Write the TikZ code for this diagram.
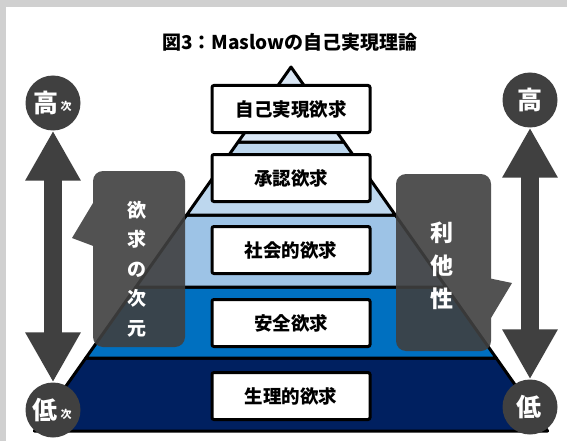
\documentclass[tikz,border=0pt]{standalone}
\usepackage{fontspec}
\setmainfont{Noto Sans CJK JP}
\usetikzlibrary{arrows.meta}
\definecolor{bg}{HTML}{D0D0D0}
\definecolor{dg}{HTML}{404040}
\definecolor{p1}{HTML}{DAE7F5}
\definecolor{p2}{HTML}{BDD7EE}
\definecolor{p3}{HTML}{9DC3E6}
\definecolor{p4}{HTML}{0070C0}
\definecolor{p5}{HTML}{002060}
\begin{document}
\begin{tikzpicture}[x=1pt,y=-1pt,
 band/.style={draw=black,line width=3pt,line join=round},
 lvl/.style={draw=black,fill=white,line width=3pt,rounded corners=2pt,minimum width=158pt,minimum height=47pt,inner sep=0pt,font=\fontsize{18.5}{18.5}\selectfont\bfseries},
 badge/.style={circle,fill=dg,minimum size=55pt,inner sep=0pt},
 bigtxt/.style={text=white,font=\fontsize{25}{25}\selectfont\bfseries,inner sep=0pt},
 smalltxt/.style={text=white,font=\fontsize{11}{11}\selectfont\bfseries,inner sep=0pt},
 dbl/.style={draw=dg,line width=18pt,{Triangle[width=52pt,length=50pt]}-{Triangle[width=52pt,length=50pt]}},
 vtxt/.style={text=white,inner sep=0pt,align=center}]
\fill[bg] (0,0) rectangle (567,441);
\fill[white] (6,7) rectangle (567,441);
\useasboundingbox (0,0) rectangle (567,441);
% title
\node[font=\fontsize{19}{19}\selectfont\bfseries] (title) at (290,42) {図3：Maslowの自己実現理論};
% pyramid
\filldraw[band,fill=p5] (85.8,358) -- (496.2,358) -- (547.6,431) -- (34.4,431) -- cycle;
\filldraw[band,fill=p4] (135.9,287) -- (446.1,287) -- (496.2,358) -- (85.8,358) -- cycle;
\filldraw[band,fill=p3] (186.7,215) -- (395.3,215) -- (446.1,287) -- (135.9,287) -- cycle;
\filldraw[band,fill=p2] (238.1,142) -- (343.9,142) -- (395.3,215) -- (186.7,215) -- cycle;
\filldraw[band,fill=p1] (291,67) -- (343.9,142) -- (238.1,142) -- cycle;
% level boxes
\node[lvl] (l1) at (291,109) {自己実現欲求};
\node[lvl] (l2) at (291,178) {承認欲求};
\node[lvl] (l3) at (291,250) {社会的欲求};
\node[lvl] (l4) at (291,323) {安全欲求};
\node[lvl] (l5) at (291,396) {生理的欲求};
% badges
\node[badge] (lt) at (53,103) {};
\node[badge] (lb) at (53,410) {};
\node[badge] (rt) at (530,100) {};
\node[badge] (rb) at (530,407) {};
\draw[dbl] (lt.south) -- (lb.north);
\draw[dbl] (rt.south) -- (rb.north);
\node[bigtxt] (lt1) at (46,103) {高};
\node[smalltxt] (lt2) at (66,106) {次};
\node[bigtxt] (lb1) at (45,410) {低};
\node[smalltxt] (lb2) at (66,414) {次};
\node[bigtxt] (rt1) at (530,100) {高};
\node[bigtxt] (rb1) at (529,407) {低};
% callouts
\begin{scope}[transparency group,opacity=0.9]
\fill[dg,rounded corners=10pt] (93,171) rectangle (185,347);
\fill[dg] (96,198) -- (72,238) -- (96,247) -- cycle;
\end{scope}
\begin{scope}[transparency group,opacity=0.9]
\fill[dg,rounded corners=10pt] (396,174) rectangle (491,351);
\fill[dg] (488,278) -- (512,283) -- (488,323) -- cycle;
\end{scope}
\node[vtxt,font=\fontsize{19}{29.5}\selectfont\bfseries] (c1) at (137,269) {欲\\求\\の\\次\\元};
\node[vtxt,font=\fontsize{23}{33}\selectfont\bfseries] (c2) at (442,266) {利\\他\\性};
\end{tikzpicture}
\end{document}
